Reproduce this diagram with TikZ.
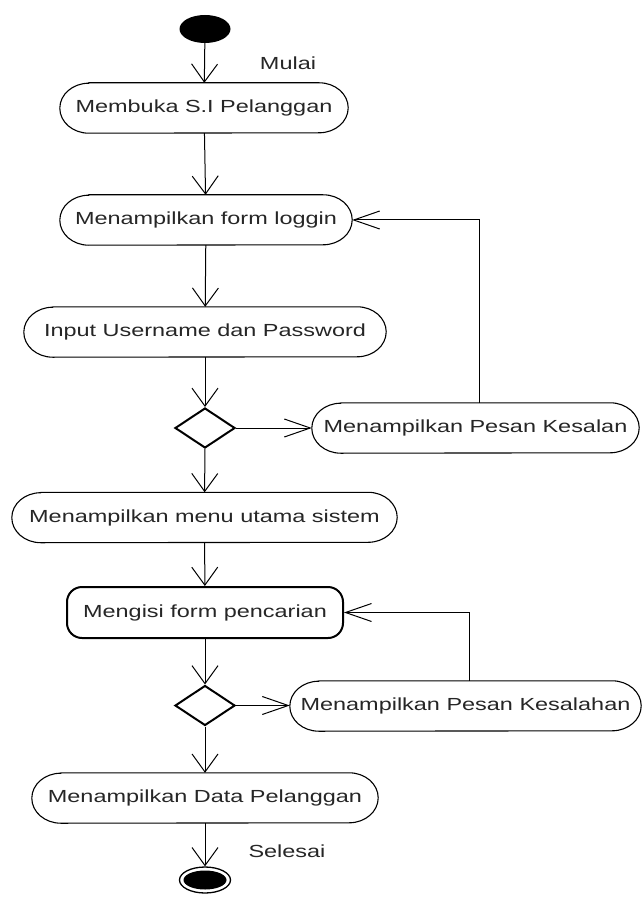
\documentclass[tikz,border=0pt]{standalone}
\usepackage{fontspec}
\usepackage{graphicx}
\setmainfont{Liberation Sans}
\usetikzlibrary{arrows.meta,shapes.geometric}

% widened label text
\newcommand\wtext[1]{\scalebox{1.34}[1]{#1}}
% pill outline around an activity node
\newcommand\pillframe[1]{%
  \draw[boxline] ([xshift=29pt]#1.north west) -- ([xshift=-29pt]#1.north east)
    arc[start angle=90,end angle=-90,x radius=29pt,y radius=25pt]
    -- ([xshift=29pt]#1.south west)
    arc[start angle=270,end angle=90,x radius=29pt,y radius=25pt] -- cycle;}

\begin{document}
\begin{tikzpicture}[x=1pt,y=-1pt,
  every node/.style={font=\fontsize{17.5}{20}\selectfont, text=black!85},
  act/.style={rectangle, minimum height=50pt, inner sep=0pt},
  boxline/.style={line width=1.1pt},
  decision/.style={diamond, draw, line width=2pt, inner sep=0pt,
    minimum width=60pt, minimum height=40pt},
  flowv/.style={line width=1pt, -{Straight Barb[length=18pt,width=26pt,line width=1pt]}},
  flowh/.style={line width=1pt, -{Straight Barb[length=26pt,width=18pt,line width=1pt]}}]

\useasboundingbox (0,0) rectangle (642,901);
\fill[white] (0,0) rectangle (642,901);

% start and end markers
\node[ellipse, fill=black, minimum width=51pt, minimum height=28pt, inner sep=0pt] (start) at (205,29) {};
\node[ellipse, draw, line width=1.3pt, minimum width=51pt, minimum height=26pt, inner sep=0pt] (stop) at (205,880) {};
\fill (stop.center) ellipse[x radius=21.5pt, y radius=9.5pt];

\node (mulai) at (288,63) {\wtext{Mulai}};
\node (selesai) at (287,851) {\wtext{Selesai}};

% activities
\node[act, minimum width=288pt] (a1) at (204,108) {\wtext{Membuka S.I Pelanggan}};
\node[act, minimum width=292pt] (a2) at (206,220) {\wtext{Menampilkan form loggin}};
\node[act, minimum width=362pt] (a3) at (205,332) {\wtext{Input Username dan Password}};
\node[act, minimum width=327pt] (e1) at (475.5,428) {\wtext{Menampilkan Pesan Kesalan}};
\node[act, minimum width=385pt] (a5) at (204.5,517.5) {\wtext{Menampilkan menu utama sistem}};
\node[act, draw, line width=2pt, rounded corners=15pt, minimum width=276pt, minimum height=51pt] (a6) at (205,612.5) {\wtext{Mengisi form pencarian}};
\node[act, minimum width=351pt] (e2) at (465.5,706) {\wtext{Menampilkan Pesan Kesalahan}};
\node[act, minimum width=346pt] (a8) at (205,798) {\wtext{Menampilkan Data Pelanggan}};

\foreach \n in {a1,a2,a3,e1,a5,e2,a8} {\pillframe{\n}}

% decisions
\node[decision] (d1) at (205,428) {};
\node[decision] (d2) at (205,705.5) {};

% loop-back corners
\coordinate (k1) at (479,220);
\coordinate (k2) at (469,612.5);

% flow
\draw[flowv] (start) -- (a1);
\draw[flowv] (a1) -- (a2);
\draw[flowv] (a2) -- (a3);
\draw[flowv] (a3) -- (d1);
\draw[flowh] (d1) -- (e1);
\draw[flowh] (e1.north -| k1) -- (k1) -- (a2.east);
\draw[flowv] (d1) -- (a5);
\draw[flowv] (a5) -- (a6);
\draw[flowv] (a6) -- (d2);
\draw[flowh] (d2.east) -- (d2.east -| e2.west);
\draw[flowh] (e2.north -| k2) -- (k2) -- (a6.east);
\draw[flowv] (d2) -- (a8);
\draw[flowv] (a8) -- (stop);
\end{tikzpicture}
\end{document}
